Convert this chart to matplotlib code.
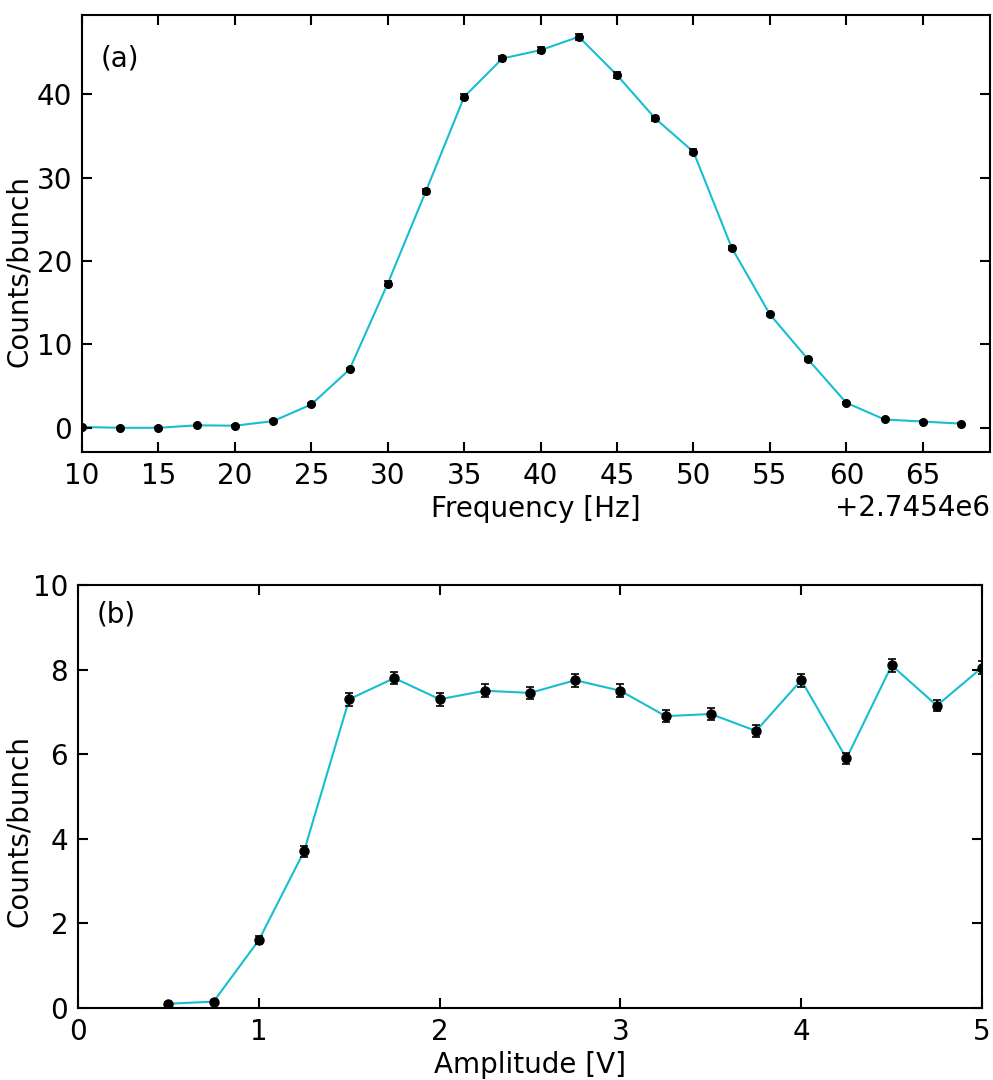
import matplotlib
matplotlib.use("Agg")
import matplotlib.pyplot as plt
import numpy as np

# Panel (a): frequency scan
freq_offset = [10, 12.5, 15, 17.5, 20, 22.5, 25, 27.5, 30, 32.5, 35, 37.5, 40,
               42.5, 45, 47.5, 50, 52.5, 55, 57.5, 60, 62.5, 65, 67.5]
freq_base = 2.7454e6
counts_a = [0.1, 0.0, 0.0, 0.3, 0.25, 0.8, 2.8, 7.0, 17.3, 28.4, 39.7, 44.3,
            45.3, 46.9, 42.3, 37.1, 33.1, 21.6, 13.6, 8.2, 3.0, 1.0, 0.75, 0.5]
err_a = [0.05, 0.05, 0.05, 0.08, 0.08, 0.1, 0.15, 0.2, 0.25, 0.3, 0.3, 0.35,
         0.35, 0.35, 0.35, 0.3, 0.3, 0.25, 0.2, 0.2, 0.15, 0.1, 0.1, 0.08]

# Panel (b): amplitude scan
amplitude = [0.5, 0.75, 1.0, 1.25, 1.5, 1.75, 2.0, 2.25, 2.5, 2.75, 3.0, 3.25,
             3.5, 3.75, 4.0, 4.25, 4.5, 4.75, 5.0]
counts_b = [0.1, 0.15, 1.6, 3.7, 7.3, 7.8, 7.3, 7.5, 7.45, 7.75, 7.5, 6.9,
            6.95, 6.55, 7.75, 5.9, 8.1, 7.15, 8.05]
err_b = [0.04, 0.05, 0.09, 0.12, 0.15, 0.15, 0.15, 0.15, 0.15, 0.15, 0.15, 0.14,
         0.14, 0.14, 0.15, 0.14, 0.15, 0.14, 0.15]

plt.rcParams['font.family'] = 'DejaVu Sans'
plt.rcParams['font.size'] = 20

line_color = '#17becf'
FS = 20

fig = plt.figure(figsize=(9.93, 10.8), dpi=100)
ax1 = fig.add_axes([0.0826, 0.5815, 0.9144, 0.4045])
ax2 = fig.add_axes([0.0785, 0.0667, 0.9105, 0.3916])

freqs = np.array(freq_offset) + freq_base

def style(ax):
    ax.tick_params(direction='in', top=True, right=True, length=7, width=1.5,
                   labelsize=FS, pad=7)
    for s in ax.spines.values():
        s.set_linewidth(1.5)

ax1.plot(freqs, counts_a, color=line_color, lw=1.5, zorder=1)
ax1.errorbar(freqs, counts_a, yerr=err_a, fmt='o', color='black', ms=5.5,
             capsize=3, elinewidth=1.2, capthick=1.2, zorder=2)
ax1.set_xlim(freq_base + 10, freq_base + 69.4)
ax1.set_ylim(-2.9, 49.5)
ax1.set_xticks(freq_base + np.arange(10, 66, 5))
ax1.set_yticks([0, 10, 20, 30, 40])
ax1.set_xlabel('Frequency [Hz]', fontsize=FS, labelpad=4)
ax1.set_ylabel('Counts/bunch', fontsize=FS)
ax1.yaxis.set_label_coords(-0.054, 0.414)
ax1.text(0.02, 0.90, '(a)', transform=ax1.transAxes, fontsize=FS, va='center')
style(ax1)
ax1.xaxis.get_offset_text().set_fontsize(FS)

ax2.plot(amplitude, counts_b, color=line_color, lw=1.5, zorder=1)
ax2.errorbar(amplitude, counts_b, yerr=err_b, fmt='o', color='black', ms=6.5,
             capsize=3, elinewidth=1.2, capthick=1.2, zorder=2)
ax2.set_xlim(0, 5)
ax2.set_ylim(0, 10)
ax2.set_xticks([0, 1, 2, 3, 4, 5])
ax2.set_yticks([0, 2, 4, 6, 8, 10])
ax2.set_xlabel('Amplitude [V]', fontsize=FS, labelpad=4)
ax2.set_ylabel('Counts/bunch', fontsize=FS)
ax2.yaxis.set_label_coords(-0.0498, 0.418)
ax2.text(0.021, 0.93, '(b)', transform=ax2.transAxes, fontsize=FS, va='center')
style(ax2)

fig.savefig('out.png', dpi=100)
